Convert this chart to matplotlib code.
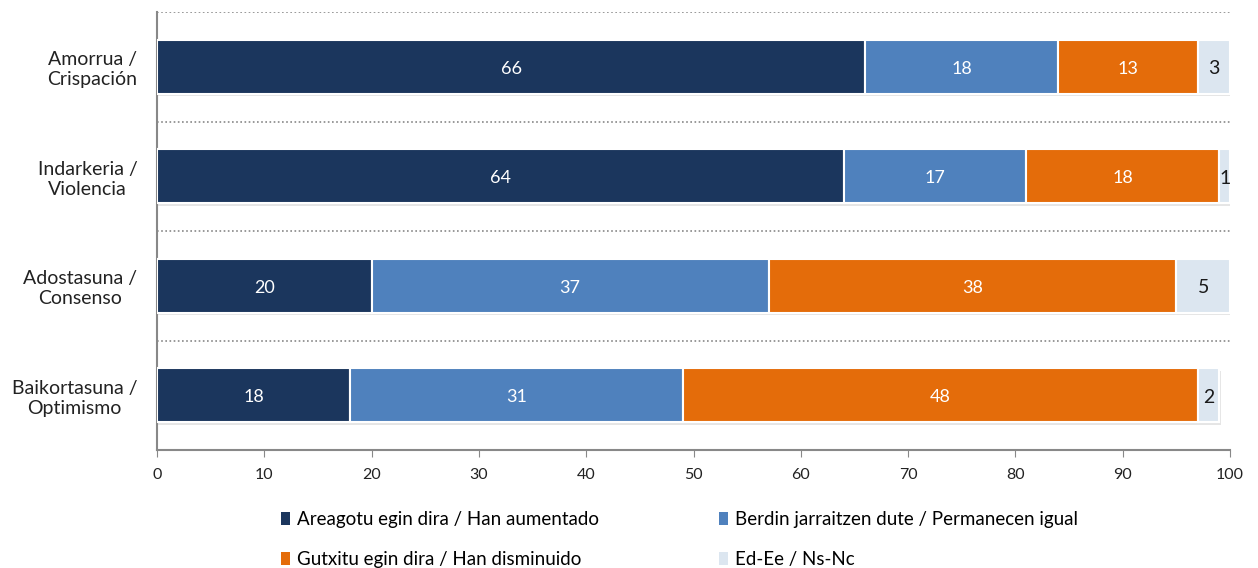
import numpy as np
import matplotlib
matplotlib.use("Agg")
import matplotlib.pyplot as plt
import matplotlib.patheffects as pe

plt.rcParams['font.family'] = ['Lato', 'DejaVu Sans']

categories = ["Amorrua /\nCrispación", "Indarkeria /\nViolencia",
              "Adostasuna /\nConsenso", "Baikortasuna /\nOptimismo"]
series_names = ["Areagotu egin dira / Han aumentado",
                "Berdin jarraitzen dute / Permanecen igual",
                "Gutxitu egin dira / Han disminuido",
                "Ed-Ee / Ns-Nc"]
aumentado = [66, 64, 20, 18]
igual = [18, 17, 37, 31]
disminuido = [13, 18, 38, 48]
nsnc = [3, 1, 5, 2]

colors = ["#1B365D", "#4F81BD", "#E46C0A", "#DCE6F0"]
text_colors = ["white", "white", "white", "#1a1a1a"]

fig = plt.figure(figsize=(12.58, 5.68), dpi=100)
ax = fig.add_axes([157 / 1258, 1 - 450 / 568, (1230 - 157) / 1258, (450 - 12) / 568])

y = np.arange(len(categories))
left = np.zeros(len(categories))
shadow = [pe.SimplePatchShadow(offset=(1, -2), shadow_rgbFace='#999999', alpha=0.25), pe.Normal()]
handles = []
for vals, name, col, tc in zip([aumentado, igual, disminuido, nsnc], series_names, colors, text_colors):
    bars = ax.barh(y, vals, left=left, height=0.49, color=col, edgecolor='white',
                   linewidth=1.5, label=name, path_effects=shadow, zorder=3)
    handles.append(bars)
    for yi, l, v in zip(y, left, vals):
        ax.text(l + v / 2, yi + 0.02, str(v), ha='center', va='center', color=tc,
                fontsize=13 if tc == 'white' else 14, zorder=5)
    left += np.array(vals)

ax.set_xlim(0, 100)
ax.set_ylim(3.5, -0.5)
ax.set_xticks(np.arange(0, 101, 10))
ax.set_yticks(y)
ax.set_yticklabels(categories, multialignment='center', fontsize=14, color='#222222')
ax.tick_params(axis='y', length=0, pad=14)
ax.tick_params(axis='x', direction='out', length=5, color='#888888', labelsize=11.5,
               labelcolor='#222222', pad=8)
for sep in [-0.5, 0.5, 1.5, 2.5]:
    ax.axhline(sep, color='#888888', linestyle=(0, (1, 1.5)), linewidth=1.2, zorder=1)

for s in ['top', 'right']:
    ax.spines[s].set_visible(False)
for s in ['left', 'bottom']:
    ax.spines[s].set_color('#888888')
    ax.spines[s].set_linewidth(1.5)

order = [0, 2, 1, 3]
leg = fig.legend([handles[i] for i in order], [series_names[i] for i in order],
                 loc='lower left', bbox_to_anchor=(264 / 1258, -0.03), ncol=2, frameon=False,
                 fontsize=13.5, handlelength=0.5, handleheight=0.7, handletextpad=0.35,
                 columnspacing=6.4, labelspacing=1.25)
for h in leg.legend_handles:
    h.set_path_effects([])
    h.set_edgecolor('none')

fig.savefig("out.png", dpi=100)
